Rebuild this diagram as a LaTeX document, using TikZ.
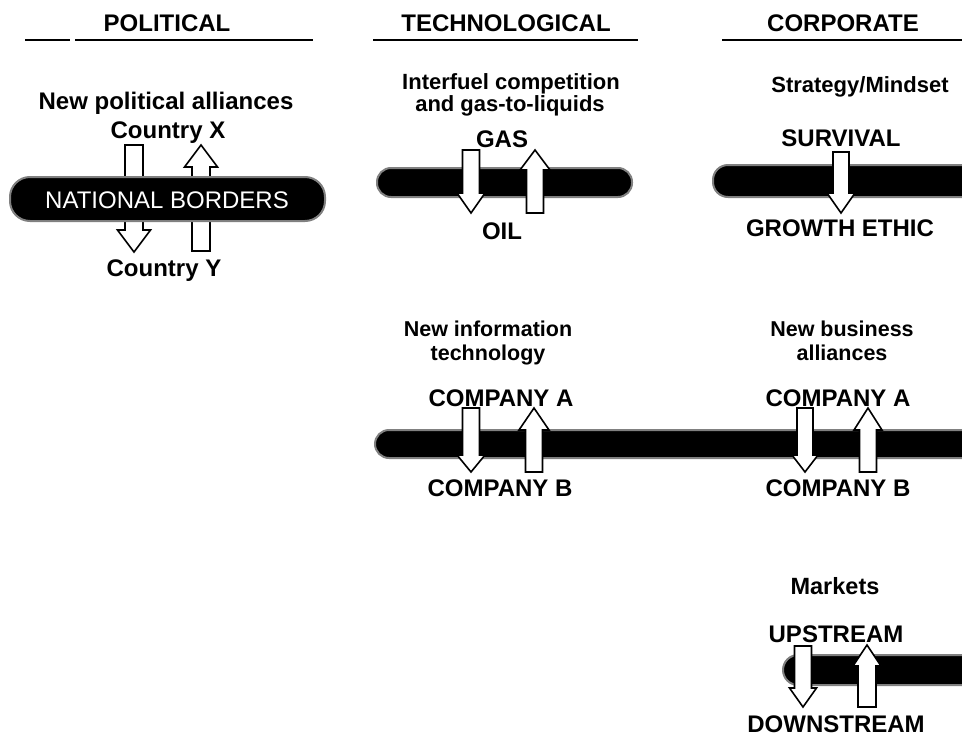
\documentclass[tikz,border=0pt]{standalone}
\usepackage{fontspec}
\setmainfont{Liberation Sans}
\newcommand\DnArrow[6]{% cx, top, headstart, tip, stem half, head half
  \draw[blockarrow] (#1-#5,#2) -- (#1+#5,#2) -- (#1+#5,#3) -- (#1+#6,#3) -- (#1,#4)
    -- (#1-#6,#3) -- (#1-#5,#3) -- cycle;}
\newcommand\UpArrow[6]{% cx, bottom, headbase, tip, stem half, head half
  \draw[blockarrow] (#1-#5,#2) -- (#1+#5,#2) -- (#1+#5,#3) -- (#1+#6,#3) -- (#1,#4)
    -- (#1-#6,#3) -- (#1-#5,#3) -- cycle;}
\tikzset{
  hdr/.style={font=\fontsize{24}{26}\selectfont\bfseries, inner sep=0pt, anchor=base},
  sub/.style={font=\fontsize{22}{22}\selectfont\bfseries, inner sep=0pt, anchor=base},
  lbl/.style={font=\fontsize{24}{26}\selectfont\bfseries, inner sep=0pt, anchor=base},
  rule/.style={line width=2pt},
  bar/.style={fill=black, draw=black!50, line width=2pt},
  blockarrow/.style={draw=black, fill=white, line width=1.6pt, line join=miter},
}
\begin{document}
\begin{tikzpicture}[x=1pt,y=-1pt]
\clip (0,0) rectangle (962,739);
\fill[white] (0,0) rectangle (962,739);

% headers
\node[hdr] (hpol) at (167,31) {POLITICAL};
\node[hdr] (htech) at (506,31) {TECHNOLOGICAL};
\node[hdr] (hcorp) at (843,31) {CORPORATE};
\draw[rule] (25,40) -- (70,40);
\draw[rule] (75,40) -- (313,40);
\draw[rule] (373,40) -- (638,40);
\draw[rule] (722,40) -- (970,40);

% political
\node[lbl] (npa) at (166,109) {New political alliances};
\node[lbl] (cx) at (168,138) {Country X};
\DnArrow{134}{145}{230}{252}{9}{16.5}
\UpArrow{201}{251}{167}{145}{9}{16.5}
\fill[bar, rounded corners=20] (10,177) rectangle (325,221);
\node[font=\fontsize{24}{26}\selectfont, text=white, inner sep=0pt, anchor=base] (nb) at (167,208) {NATIONAL BORDERS};
\node[lbl] (cy) at (164,276) {Country Y};

% technological: interfuel
\node[sub] (inter1) at (511,89) {Interfuel competition};
\node[sub] (inter2) at (510,111) {and gas-to-liquids};
\node[lbl] (gas) at (502,147) {GAS};
\fill[bar, rounded corners=14] (377,168) rectangle (632,197);
\DnArrow{471}{150}{193}{213}{8.5}{14}
\UpArrow{535}{213}{170}{150}{8.5}{15}
\node[lbl] (oil) at (502,239) {OIL};

% corporate: strategy
\node[sub] (strat) at (860,92) {Strategy/Mindset};
\node[lbl] (surv) at (841,146) {SURVIVAL};
\fill[bar, rounded corners=15] (713,165) rectangle (990,197);
\DnArrow{841}{152}{193}{213}{8}{14}
\node[lbl] (growth) at (840,236) {GROWTH ETHIC};

% information technology / business alliances
\node[sub, font=\fontsize{21.5}{22}\selectfont\bfseries] (newinfo1) at (488,336) {New information};
\node[sub, font=\fontsize{21.5}{22}\selectfont\bfseries] (newinfo2) at (488,360) {technology};
\node[sub, font=\fontsize{21.5}{22}\selectfont\bfseries] (newbus1) at (842,336) {New business};
\node[sub, font=\fontsize{21.5}{22}\selectfont\bfseries] (newbus2) at (842,360) {alliances};
\node[lbl] (ca1) at (501,406) {COMPANY A};
\node[lbl] (ca2) at (838,406) {COMPANY A};
\fill[bar, rounded corners=14] (375,430) rectangle (990,458);
\DnArrow{471}{408}{455}{472}{8.5}{14}
\UpArrow{534}{472}{430}{408}{8.5}{15}
\DnArrow{805}{408}{455}{472}{8}{13}
\UpArrow{868}{472}{430}{408}{8.5}{14}
\node[lbl] (cb1) at (500,496) {COMPANY B};
\node[lbl] (cb2) at (838,496) {COMPANY B};

% markets
\node[sub, font=\fontsize{23.5}{24}\selectfont\bfseries] (mkts) at (835,594) {Markets};
\node[lbl] (up) at (836,642) {UPSTREAM};
\fill[bar, rounded corners=15] (783,655) rectangle (990,685);
\DnArrow{803}{646}{688}{707}{8.5}{13.5}
\UpArrow{867}{707}{666}{645}{9}{14}
\node[lbl] (down) at (836,732) {DOWNSTREAM};
\end{tikzpicture}
\end{document}
